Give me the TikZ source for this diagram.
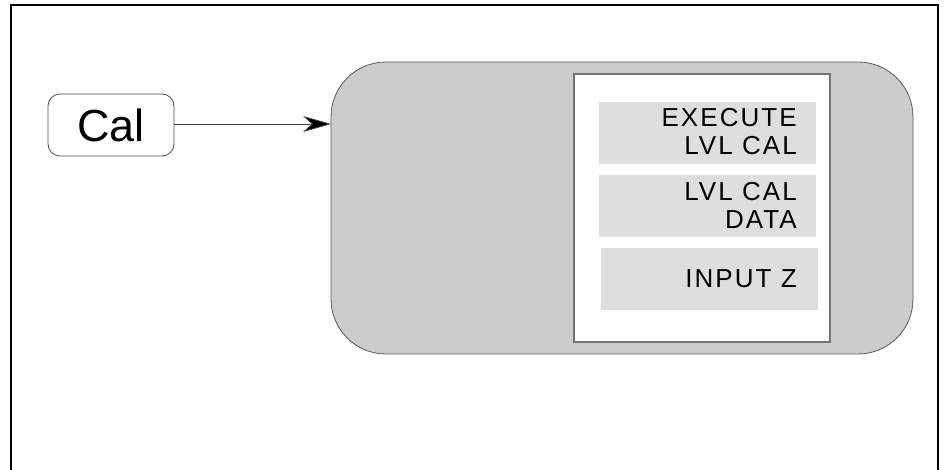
\documentclass[tikz,border=0pt]{standalone}
\usepackage{fontspec}
\setmainfont{Liberation Sans}
\newfontfamily\lblfont[LetterSpace=8]{Liberation Sans}
\usetikzlibrary{arrows.meta}
\definecolor{outerfill}{HTML}{CCCCCC}
\definecolor{subfill}{HTML}{DEDEDE}
\tikzset{
  frameline/.style={line width=2pt, black},
  calbox/.style={draw=black!70, line width=0.8pt, rounded corners=12pt, fill=white, minimum width=126pt, minimum height=62pt, inner sep=0pt, font=\fontsize{45}{45}\selectfont},
  bigbox/.style={draw=black!65, line width=0.8pt, fill=outerfill, rounded corners=55pt},
  panel/.style={draw=black!55, line width=1.4pt, fill=white},
  subbox/.style={fill=subfill, draw=none},
  lbl/.style={font=\lblfont\fontsize{26}{28}\selectfont, align=right, anchor=east, inner sep=0pt},
  conn/.style={draw=black!75, line width=0.8pt, -{Stealth[length=28pt,width=16pt,inset=9pt,fill=black]}}
}
\begin{document}
\begin{tikzpicture}[x=1pt,y=-1pt]
\useasboundingbox (0,0) rectangle (948,470);
% outer frame (bottom edge lies beyond the picture)
\draw[frameline] (11,480) -- (11,5) -- (938,5) -- (938,480);
% big rounded box
\draw[bigbox] (331,62) rectangle (913,354);
\coordinate (bigleft) at (331,124);
% white panel
\draw[panel] (574,74) rectangle (830,342);
% sub boxes
\fill[subfill] (599,102) rectangle (816,164);
\fill[subfill] (599,175) rectangle (816,237);
\fill[subfill] (601,248) rectangle (818,310);
\node[lbl] (t1) at (797,132) {EXECUTE\\LVL CAL};
\node[lbl] (t2) at (797,205) {LVL CAL\\DATA};
\node[lbl] (t3) at (797,279) {INPUT Z};
% Cal box
\node[calbox] (cal) at (111,125) {Cal};
\draw[conn] (cal.east |- bigleft) -- (bigleft);
\end{tikzpicture}
\end{document}
